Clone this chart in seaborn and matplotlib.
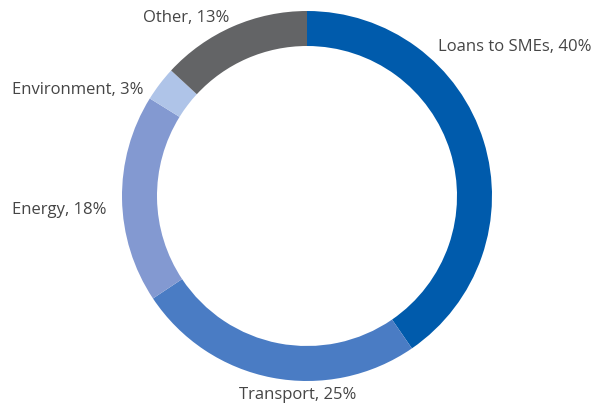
import matplotlib
matplotlib.use("Agg")
import matplotlib.pyplot as plt
import seaborn as sns

# Portfolio breakdown (%)
sectors = ["Loans to SMEs", "Transport", "Energy", "Environment", "Other"]
shares = [40, 25, 18, 3, 13]
colors = ["#005bac", "#4a7cc4", "#8399d1", "#afc4e8", "#636466"]

# label anchors in pixel space (x, y from top), alignment
label_pos = [(438, 47, "left"), (298, 395, "center"), (12, 210, "left"),
             (12, 90, "left"), (143, 18, "left")]

sns.set_theme(style="white")
plt.rcParams["font.family"] = ["Open Sans", "DejaVu Sans"]

W, H = 616, 406
fig = plt.figure(figsize=(W / 100, H / 100), dpi=100)
ax = fig.add_axes([0, 0, 1, 1])

ax.pie(shares, colors=colors, startangle=90, counterclock=False,
       center=(307, H - 197), radius=185,
       wedgeprops=dict(width=35, linewidth=0), frame=True)
ax.set_xlim(0, W)
ax.set_ylim(0, H)
ax.set_aspect("equal")
ax.axis("off")

for name, val, (x, y, ha) in zip(sectors, shares, label_pos):
    ax.text(x, H - y, f"{name}, {val}%", ha=ha, va="center",
            fontsize=12, color="#454545")

fig.savefig("out.png", dpi=100)
